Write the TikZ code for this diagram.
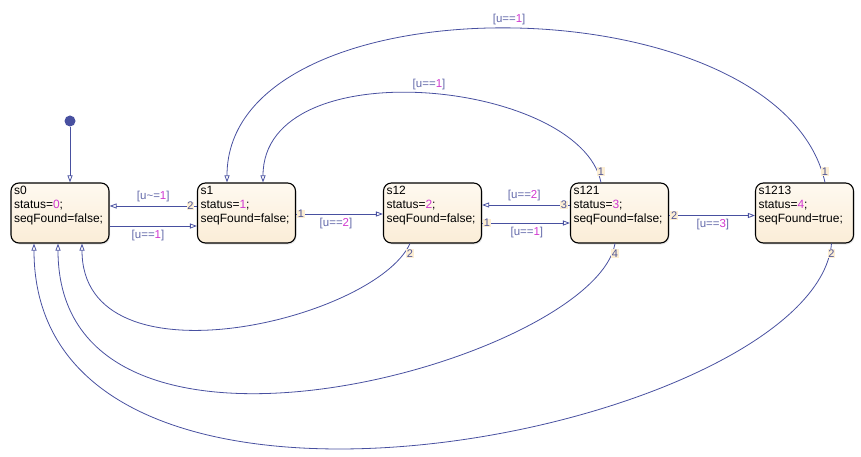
\documentclass[tikz,border=0pt]{standalone}
\usepackage{fontspec}
\setmainfont{Liberation Sans}
\usepackage{xcolor}
\usetikzlibrary{arrows.meta, shadows}

\definecolor{lineblue}{RGB}{72,80,160}
\definecolor{guardgray}{RGB}{100,106,170}
\definecolor{valpink}{RGB}{208,56,208}
\definecolor{statetop}{RGB}{254,249,240}
\definecolor{statebot}{RGB}{251,237,215}
\definecolor{portbg}{RGB}{252,238,212}
\definecolor{portfg}{RGB}{80,86,150}

\newcommand{\val}[1]{\textcolor{valpink}{#1}}
\newcommand{\statetext}[3]{\parbox[t][54pt][t]{92pt}{\raggedright #1\\status=\val{#2};\\seqFound=#3;}}

\tikzset{
    state/.style={draw=black, line width=1.1pt, rounded corners=8pt, top color=statetop, bottom color=statebot,
        inner sep=3pt, font=\fontsize{12}{14}\selectfont,
        drop shadow={opacity=0.2, shadow xshift=1pt, shadow yshift=-1.5pt}},
    trans/.style={draw=lineblue, line width=0.8pt, -{Triangle[open, length=7pt, width=5pt]}},
    guard/.style={text=guardgray, font=\fontsize{11.5}{13}\selectfont, inner sep=3.5pt},
    port/.style={text=portfg, fill=portbg, font=\fontsize{11}{12}\selectfont, inner sep=0.6pt},
}

\begin{document}
\begin{tikzpicture}[x=1pt, y=-1pt]

    \useasboundingbox (0,0) rectangle (861,457);

    \node[state] (s0) at (60,213) {\statetext{s0}{0}{false}};
    \node[state] (s1) at (246.5,213) {\statetext{s1}{1}{false}};
    \node[state] (s12) at (432.5,213) {\statetext{s12}{2}{false}};
    \node[state] (s121) at (619.5,213) {\statetext{s121}{3}{false}};
    \node[state] (s1213) at (804.5,213) {\statetext{s1213}{4}{true}};

    \node[circle, fill=lineblue, inner sep=0pt, minimum size=11pt] (init) at (70,121) {};
    \draw[trans] (init) -- ([xshift=10pt]s0.north);

    \draw[trans] ([yshift=7pt]s1.west) -- ([yshift=7pt]s0.east)
        node[guard, midway, above] {[u\textasciitilde=\val{1}]}
        node[port, pos=0, xshift=-6.5pt] {2};
    \draw[trans] ([yshift=-13pt]s0.east) -- ([yshift=-13pt]s1.west)
        node[guard, pos=0.44, below] {[u==\val{1}]};
    \draw[trans] ([yshift=-1pt]s1.east) -- ([yshift=-1pt]s12.west)
        node[guard, pos=0.46, below] {[u==\val{2}]}
        node[port, pos=0, xshift=5pt] {1};
    \draw[trans] ([yshift=8pt]s121.west) -- ([yshift=8pt]s12.east)
        node[guard, pos=0.52, above] {[u==\val{2}]}
        node[port, pos=0, xshift=-6pt] {3};
    \draw[trans] ([yshift=-10pt]s12.east) -- ([yshift=-10pt]s121.west)
        node[guard, pos=0.51, below] {[u==\val{1}]}
        node[port, pos=0, xshift=5pt] {1};
    \draw[trans] ([yshift=-2.5pt]s121.east) -- ([yshift=-2.5pt]s1213.west)
        node[guard, pos=0.51, below] {[u==\val{3}]}
        node[port, pos=0, xshift=5pt] {2};

    \draw[trans] ([xshift=-18.5pt]s121.north) .. controls (580,80) and (263,48) .. ([xshift=16.5pt]s1.north)
        node[guard, pos=0.49, above] {[u==\val{1}]}
        node[port, pos=0, yshift=11pt] {1};
    \draw[trans] ([xshift=20.5pt]s1213.north) .. controls (780,-20) and (227,-25) .. ([xshift=-19.5pt]s1.north)
        node[guard, pos=0.5, above] {[u==\val{1}]}
        node[port, pos=0, yshift=11pt] {1};

    \draw[trans] ([xshift=-22.5pt]s12.south) .. controls (375,320) and (82,390) .. ([xshift=22pt]s0.south)
        node[port, pos=0, yshift=-10pt] {2};
    \draw[trans] ([xshift=-4.5pt]s121.south) .. controls (595,360) and (58,510) .. ([xshift=-2pt]s0.south)
        node[port, pos=0, yshift=-10pt] {4};
    \draw[trans] ([xshift=27pt]s1213.south) .. controls (815,430) and (34,590) .. ([xshift=-26pt]s0.south)
        node[port, pos=0, yshift=-10pt] {2};

\end{tikzpicture}
\end{document}
